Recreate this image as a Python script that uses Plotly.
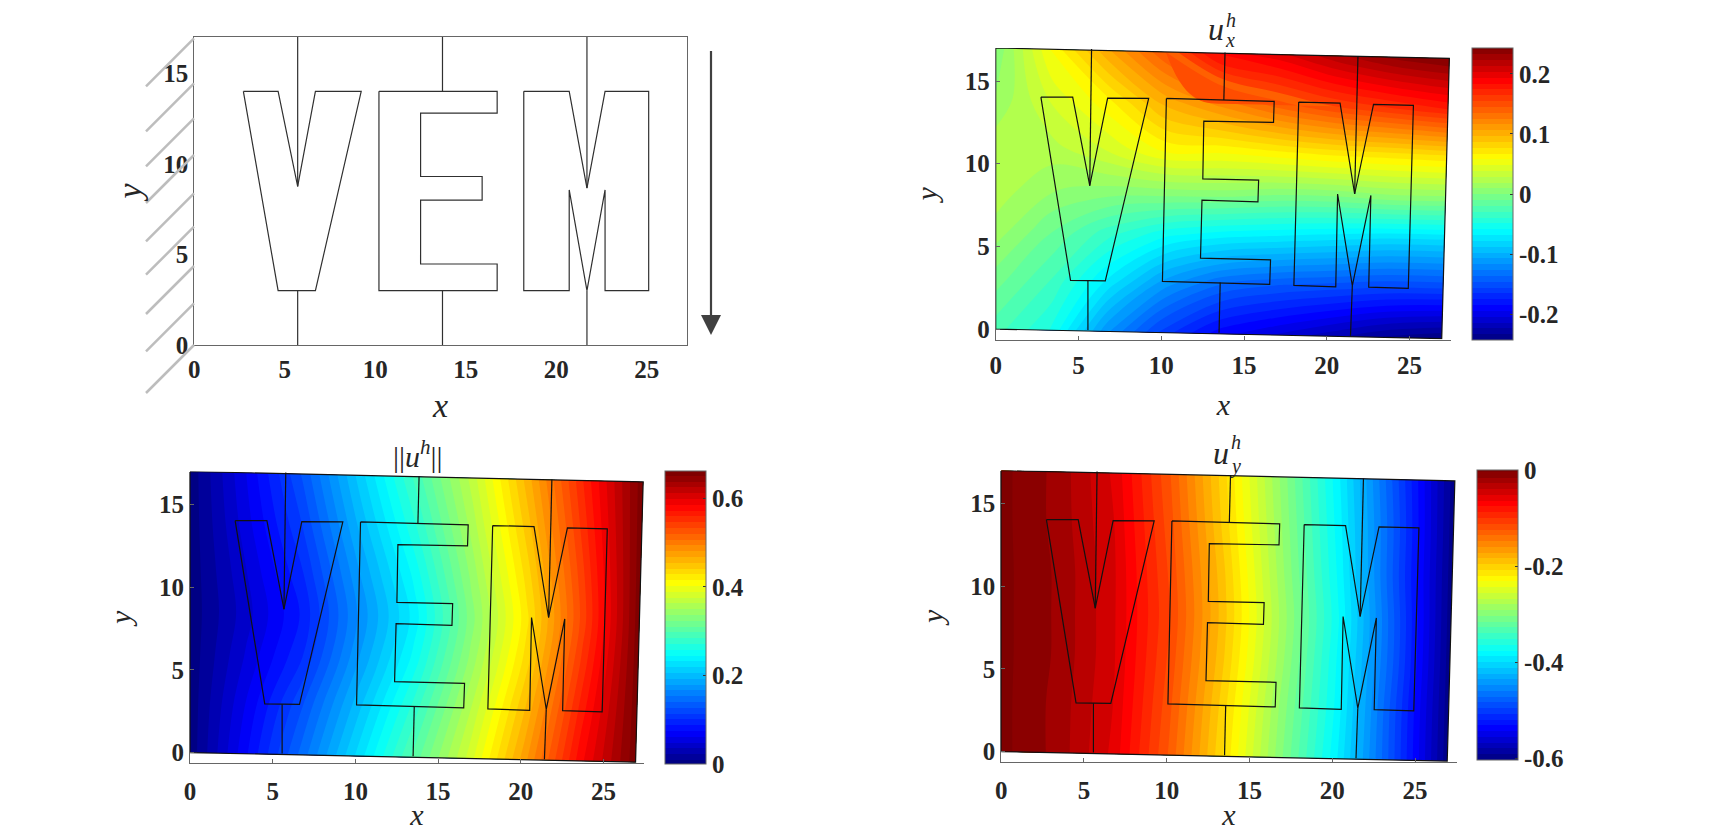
import numpy as np
import plotly.graph_objects as go

W = 1696
H = 823
PAGE_PAD = 8

# letters and vertical cuts, undeformed (top left panel)
v_x = [2.71, 4.63, 5.71, 6.69, 9.22, 6.69, 4.63, 2.71]
v_y = [14, 14, 8.75, 14, 14, 3, 3, 14]
e_x = [10.2, 16.73, 16.73, 12.5, 12.5, 15.9, 15.9, 12.5, 12.5, 16.73, 16.73, 10.2, 10.2]
e_y = [14, 14, 12.8, 12.8, 9.3, 9.3, 8.0, 8.0, 4.47, 4.47, 3, 3, 14]
m_x = [18.2, 20.71, 21.69, 22.69, 25.1, 25.1, 22.69, 22.69, 21.69, 20.71, 20.71, 18.2, 18.2]
m_y = [14, 14, 8.66, 14, 14, 3, 3, 8.56, 3, 8.56, 3, 3, 14]
cut_x = [[5.71, 5.71], [5.71, 5.71], [13.71, 13.71], [13.71, 13.71], [21.69, 21.69], [21.69, 21.69]]
cut_y = [[17, 8.75], [3, 0], [17, 14], [3, 0], [17, 8.66], [3, 0]]

# same letters after loading (other three panels)
dv_x = [2.73, 4.65, 5.68, 6.76, 9.24, 6.62, 4.52, 2.73]
dv_y = [14.03, 14.03, 8.67, 13.97, 13.95, 2.92, 2.94, 14.03]
de_x = [10.31, 16.82, 16.78, 12.57, 12.51, 15.88, 15.84, 12.46, 12.37, 16.6, 16.55, 10.07, 10.31]
de_y = [13.95, 13.77, 12.5, 12.58, 9.09, 9.01, 7.7, 7.8, 4.29, 4.19, 2.7, 2.88, 13.95]
dm_x = [18.3, 20.8, 21.68, 22.82, 25.23, 24.92, 22.53, 22.66, 21.54, 20.65, 20.54, 18.01, 18.3]
dm_y = [13.73, 13.67, 8.17, 13.59, 13.53, 2.46, 2.54, 8.08, 2.62, 8.17, 2.56, 2.64, 13.73]
dcut_x = [[5.79, 5.68], [5.57, 5.57], [13.85, 13.78], [13.56, 13.49], [21.88, 21.68], [21.54, 21.43]]
dcut_y = [[16.94, 8.67], [2.92, -0.05], [16.73, 13.85], [2.82, -0.22], [16.51, 8.17], [2.62, -0.4]]
edge_x = [0, 27.4, 26.94, 0, 0]
edge_y = [17, 16.37, -0.58, 0, 17]

# displacement fields, rows go from the bottom edge to the top edge
grid_s = [0, 0.125, 0.25, 0.375, 0.5, 0.625, 0.75, 0.875, 1]
grid_t = [0, 0.18, 0.35, 0.5, 0.65, 0.82, 1]

u_x = [
    [-0.025, -0.05, -0.115, -0.16, -0.19, -0.205, -0.22, -0.235, -0.243],
    [-0.005, -0.03, -0.07, -0.11, -0.135, -0.145, -0.15, -0.155, -0.155],
    [0.015, -0.01, -0.035, -0.055, -0.065, -0.07, -0.075, -0.08, -0.08],
    [0.025, 0.01, 0.005, 0.005, 0.005, 0.0, 0.0, 0.005, 0.005],
    [0.025, 0.025, 0.04, 0.06, 0.06, 0.065, 0.07, 0.072, 0.075],
    [0.01, 0.04, 0.065, 0.10, 0.12, 0.14, 0.155, 0.165, 0.175],
    [0.0, 0.06, 0.105, 0.145, 0.19, 0.2, 0.22, 0.235, 0.243],
]
u_y = [
    [0.0, -0.02, -0.055, -0.125, -0.21, -0.30, -0.385, -0.49, -0.60],
    [0.0, -0.02, -0.052, -0.12, -0.205, -0.295, -0.38, -0.49, -0.60],
    [0.0, -0.018, -0.05, -0.115, -0.198, -0.288, -0.378, -0.485, -0.60],
    [0.0, -0.018, -0.05, -0.112, -0.195, -0.285, -0.375, -0.485, -0.60],
    [0.0, -0.018, -0.05, -0.115, -0.198, -0.29, -0.38, -0.49, -0.60],
    [0.0, -0.02, -0.052, -0.12, -0.205, -0.295, -0.385, -0.49, -0.60],
    [0.0, -0.02, -0.055, -0.125, -0.21, -0.30, -0.39, -0.495, -0.60],
]
u_norm = [
    [0.0, 0.072, 0.145, 0.222, 0.30, 0.38, 0.475, 0.58, 0.66],
    [0.0, 0.062, 0.125, 0.20, 0.275, 0.36, 0.455, 0.565, 0.66],
    [0.0, 0.05, 0.10, 0.178, 0.25, 0.34, 0.435, 0.55, 0.66],
    [0.0, 0.043, 0.09, 0.168, 0.238, 0.33, 0.425, 0.54, 0.66],
    [0.0, 0.048, 0.10, 0.178, 0.25, 0.34, 0.435, 0.545, 0.66],
    [0.0, 0.056, 0.115, 0.195, 0.27, 0.355, 0.45, 0.555, 0.66],
    [0.0, 0.062, 0.13, 0.212, 0.29, 0.37, 0.465, 0.565, 0.66],
]

xticks = [0, 5, 10, 15, 20, 25]
yticks = [0, 5, 10, 15]

jet = [[0, "#00007f"], [0.11, "#0000ff"], [0.375, "#00ffff"], [0.625, "#ffff00"], [0.89, "#ff0000"], [1, "#7f0000"]]
serif = "Liberation Serif"
tick_font = dict(family=serif, size=25, color="#262626", weight=700)
axis_gray = "#666666"


# positions below are page pixels, the page has a default body margin
def px_x(p):
    return (p - PAGE_PAD) / W


def px_y(p):
    return 1 - (p - PAGE_PAD) / H


# deformed mesh from the four corners of the block
s = np.array(grid_s)
t = np.array(grid_t)
mesh_x = np.outer(1 - t, s * edge_x[2]) + np.outer(t, s * edge_x[1])
mesh_y = np.outer(1 - t, edge_y[3] + s * (edge_y[2] - edge_y[3])) + np.outer(t, edge_y[0] + s * (edge_y[1] - edge_y[0]))

fig = go.Figure()


def add_letters(n, xs, ys, color):
    for a, b in zip(xs, ys):
        fig.add_trace(go.Scatter(x=a, y=b, mode="lines", line=dict(color=color, width=1.2),
                                 xaxis="x" + n, yaxis="y" + n, showlegend=False, hoverinfo="skip"))


def add_field(n, z, zmin, zmax, start, step, cb):
    cid = "c" + (n or "1")
    hidden = dict(showgrid=False, minorgridcount=0, showticklabels="none", startline=False, endline=False,
                  tickmode="array", tickvals=[])
    fig.add_trace(go.Carpet(a=grid_s, b=grid_t, x=mesh_x, y=mesh_y, carpet=cid, xaxis="x" + n, yaxis="y" + n,
                            aaxis=hidden, baxis=hidden))
    fig.add_trace(go.Contourcarpet(a=grid_s, b=grid_t, z=z, carpet=cid, colorscale=jet, zmin=zmin, zmax=zmax,
                                   autocontour=False,
                                   contours=dict(start=start, end=zmax, size=step, coloring="fill", showlines=False),
                                   line=dict(width=0), colorbar=cb))


def colorbar(left, top, bottom, vals, text):
    return dict(x=px_x(left), xanchor="left", xpad=0, y=px_y(bottom), yanchor="bottom",
                len=(bottom - top) / H, lenmode="fraction", ypad=0, thickness=41, thicknessmode="pixels",
                tickmode="array", tickvals=vals, ticktext=text, ticks="inside", ticklen=3, tickcolor="#333333",
                tickfont=tick_font, outlinecolor=axis_gray, outlinewidth=1)


add_field("2", u_x, -0.243, 0.243, -0.243, 0.0097,
          colorbar(1472, 48, 340, [-0.2, -0.1, 0, 0.1, 0.2], ["-0.2", "-0.1", "0", "0.1", "0.2"]))
add_field("3", u_norm, 0, 0.662, -0.004, 0.0131,
          colorbar(665, 471.5, 764, [0, 0.2, 0.4, 0.6], ["0", "0.2", "0.4", "0.6"]))
add_field("4", u_y, -0.604, 0, -0.604, 0.012,
          colorbar(1477, 470.5, 760, [-0.6, -0.4, -0.2, 0], ["-0.6", "-0.4", "-0.2", "0"]))

add_letters("", [v_x, e_x, m_x] + cut_x, [v_y, e_y, m_y] + cut_y, "#303030")
for n in ["2", "3", "4"]:
    add_letters(n, [dv_x, de_x, dm_x, edge_x] + dcut_x, [dv_y, de_y, dm_y, edge_y] + dcut_y, "#111111")


def axis_pair(n, box_px, xr, yr, box, ticks, title_size, x_off, y_off, label_off):
    left, right, top, bottom = box_px
    title_font = dict(family=serif, size=title_size, color="#262626")
    xa = dict(domain=[px_x(left), px_x(right)], range=xr, anchor="y" + n, tickmode="array", tickvals=xticks,
              tickfont=tick_font, showgrid=False, zeroline=False, showline=True, linecolor=axis_gray, linewidth=1,
              mirror=box, ticks=ticks, ticklen=4, tickcolor=axis_gray, ticklabelstandoff=label_off,
              title=dict(text="<i>x</i>", font=title_font, standoff=x_off))
    ya = dict(domain=[px_y(bottom), px_y(top)], range=yr, anchor="x" + n, tickmode="array", tickvals=yticks,
              tickfont=tick_font, showgrid=False, zeroline=False, showline=True, linecolor=axis_gray, linewidth=1,
              mirror=box, ticks=ticks, ticklen=4, tickcolor=axis_gray,
              title=dict(text="<i>y</i>", font=title_font, standoff=y_off))
    return xa, ya


x1, y1 = axis_pair("", [194.3, 686.7, 37, 345], [0, 27.2], [0, 17], True, "", 34, 11, 11, 2)
x2, y2 = axis_pair("2", [995.7, 1451, 48, 339.5], [0, 27.5], [-0.63, 17], False, "inside", 30, 16, 18, 3)
x3, y3 = axis_pair("3", [190, 644, 471.5, 763], [0, 27.45], [-0.63, 17], False, "inside", 30, 26, 18, 6)
x4, y4 = axis_pair("4", [1001.2, 1456.5, 470.5, 762], [0, 27.5], [-0.63, 17], False, "inside", 30, 26, 17, 6)

# support hatching and load arrow of the first panel
hatch_top = [38.3, 83.3, 118.3, 155, 193.3, 226.7, 266, 303.3, 345]
shapes = []
for yy in hatch_top:
    shapes.append(dict(type="line", xref="paper", yref="paper", x0=px_x(194), y0=px_y(yy), x1=px_x(146), y1=px_y(yy + 48),
                       line=dict(color="#bdbdbd", width=2.5)))
shapes.append(dict(type="line", xref="paper", yref="paper", x0=px_x(711), y0=px_y(51), x1=px_x(711), y1=px_y(318),
                   line=dict(color="#404040", width=2.2)))
shapes.append(dict(type="path", xref="paper", yref="paper", fillcolor="#404040", line=dict(width=0),
                   path="M %f,%f L %f,%f L %f,%f Z" % (px_x(701), px_y(315), px_x(721), px_y(315), px_x(711), px_y(335))))


def note(cx, cy, text, size=32):
    return dict(x=px_x(cx), y=px_y(cy), xref="paper", yref="paper", text=text, showarrow=False,
                xanchor="center", yanchor="middle", font=dict(family=serif, size=size, color="#262626"))


notes = [
    note(1216, 29, "<i>u</i>"),
    note(1230, 40, "<i>x</i>", 20),
    note(1231, 20, "<i>h</i>", 20),
    note(418, 454, "||<i>u</i><sup><i>h</i></sup>||", 30),
    note(1221, 453, "<i>u</i>"),
    note(1235, 466, "<i>y</i>", 20),
    note(1236, 442, "<i>h</i>", 20),
]

fig.update_layout(width=W, height=H, margin=dict(l=0, r=0, t=0, b=0, autoexpand=False), paper_bgcolor="white",
                  plot_bgcolor="white", showlegend=False, xaxis=x1, yaxis=y1, xaxis2=x2, yaxis2=y2,
                  xaxis3=x3, yaxis3=y3, xaxis4=x4, yaxis4=y4, shapes=shapes, annotations=notes)

fig.write_html("out.html")
